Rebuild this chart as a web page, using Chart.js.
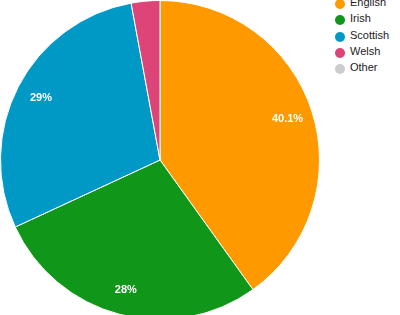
<!DOCTYPE html>
<html>
<head>
<meta charset="utf-8">
<script src="https://cdn.jsdelivr.net/npm/chart.js@4/dist/chart.umd.min.js"></script>
<style>
  html, body { margin: 0; padding: 0; background: #fff; overflow: hidden; }
  #wrap { position: relative; width: 400px; height: 315px; overflow: hidden; }
  #pie { position: absolute; left: 0; top: 0; }
  .item { position: absolute; left: 335px; height: 16px; line-height: 16px;
          font: 11px Arial, "Liberation Sans", sans-serif; color: #222; white-space: nowrap; }
  .dot { position: absolute; left: 0; top: 3px; width: 10px; height: 10px; border-radius: 50%; }
  .txt { position: absolute; left: 15px; top: 0; }
</style>
</head>
<body>
<div id="wrap">
  <canvas id="pie" width="320" height="320"></canvas>
  <div id="legend"></div>
</div>
<script>
// Data
const regions = ["English", "Irish", "Scottish", "Welsh", "Other"];
const shares = [40.1, 28, 29, 2.9, 0];
const colors = ["#ff9900", "#109618", "#0099c6", "#dd4477", "#cccccc"];

// percentage labels inside the slices
const sliceLabels = {
  id: "sliceLabels",
  afterDatasetsDraw(chart) {
    const ctx = chart.ctx;
    const meta = chart.getDatasetMeta(0);
    const total = shares.reduce((a, b) => a + b, 0);
    ctx.save();
    ctx.fillStyle = "#fff";
    ctx.font = "bold 11px Arial";
    ctx.textAlign = "center";
    ctx.textBaseline = "middle";
    meta.data.forEach((arc, i) => {
      const pct = shares[i] / total * 100;
      if (pct < 5) return;
      const p = arc.getProps(["x", "y", "startAngle", "endAngle", "outerRadius"], true);
      const mid = (p.startAngle + p.endAngle) / 2;
      const r = p.outerRadius * 0.84;
      const txt = (Math.round(pct * 10) / 10) + "%";
      ctx.fillText(txt, p.x + Math.cos(mid) * r, p.y + Math.sin(mid) * r);
    });
    ctx.restore();
  }
};

new Chart(document.getElementById("pie"), {
  type: "pie",
  data: {
    labels: regions,
    datasets: [{
      data: shares,
      backgroundColor: colors,
      borderColor: "#fff",
      borderWidth: 1
    }]
  },
  options: {
    responsive: false,
    animation: false,
    events: [],
    layout: { padding: 0 },
    plugins: {
      legend: { display: false },
      tooltip: { enabled: false }
    }
  },
  plugins: [sliceLabels]
});

// legend on the right
const legend = document.getElementById("legend");
regions.forEach((name, i) => {
  const row = document.createElement("div");
  row.className = "item";
  row.style.top = (4 + i * 16.3 - 8) + "px";
  row.innerHTML = '<span class="dot" style="background:' + colors[i] + '"></span><span class="txt">' + name + '</span>';
  legend.appendChild(row);
});
</script>
</body>
</html>
